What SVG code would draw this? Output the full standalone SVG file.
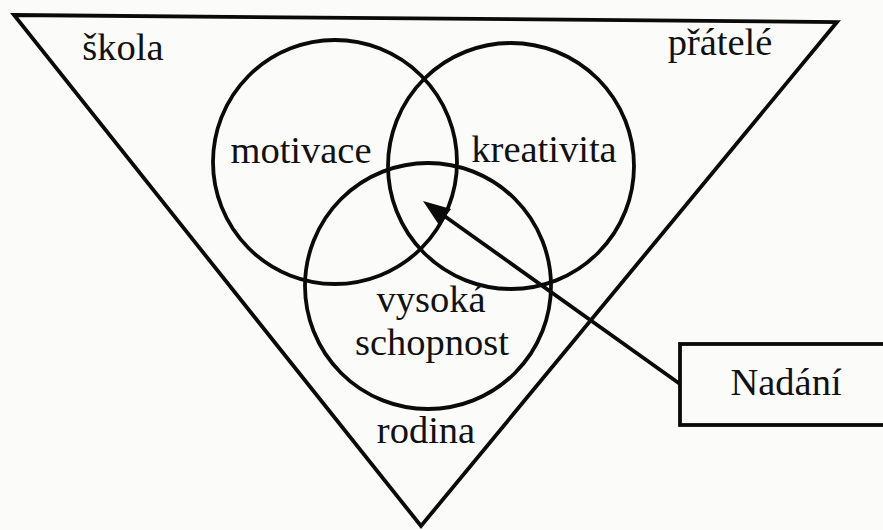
<svg xmlns="http://www.w3.org/2000/svg" width="883" height="530" viewBox="0 0 883 530">
<style>
.ln{fill:none;stroke:#0a0a0a;stroke-width:3.8;}
.tx{font-family:"Liberation Serif","Times New Roman",serif;font-size:38.5px;fill:#111;text-anchor:middle;}
</style>
<rect width="883" height="530" fill="#fbfbf9"/>
<g id="triangle">
<polygon class="ln" points="14,15 837,22 421,526" stroke-width="4.5" stroke-linejoin="miter"/>
<text class="tx" x="123" y="60">škola</text>
<text class="tx" x="720" y="55">přátelé</text>
<text class="tx" x="426" y="443">rodina</text>
</g>
<g id="motivace">
<circle class="ln" cx="335" cy="162" r="122"/>
<text class="tx" x="301" y="163">motivace</text>
</g>
<g id="kreativita">
<circle class="ln" cx="511" cy="166" r="123"/>
<text class="tx" x="544" y="162">kreativita</text>
</g>
<g id="schopnost">
<circle class="ln" cx="428" cy="286" r="123"/>
<text class="tx" x="431" y="312">vysoká</text>
<text class="tx" x="432" y="355">schopnost</text>
</g>
<g id="nadani">
<rect class="ln" x="680" y="344" width="215" height="81" stroke-width="4"/>
<text class="tx" x="786" y="395">Nadání</text>
</g>
<g id="connectors">
<line class="ln" x1="680" y1="384" x2="443" y2="215"/>
<polygon points="423,201 451,209 439,225" fill="#0a0a0a"/>
</g>
</svg>
